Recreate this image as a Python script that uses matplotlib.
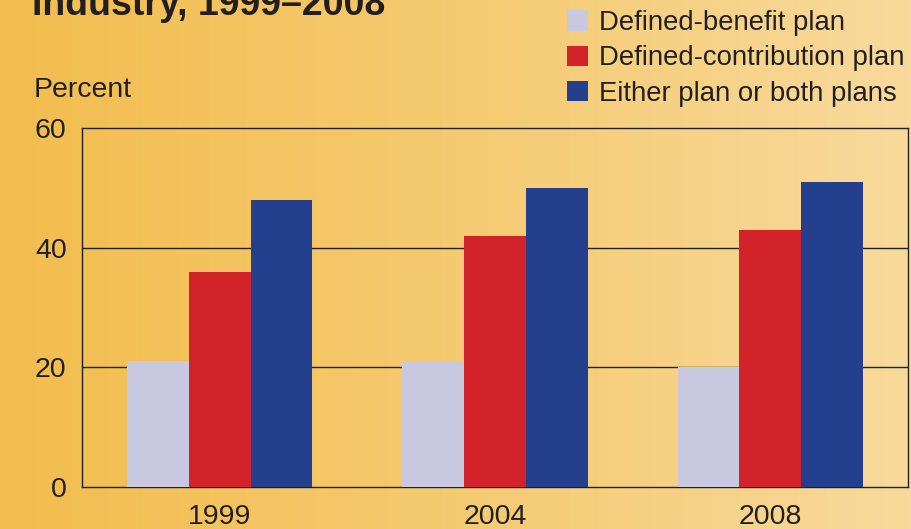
import numpy as np
import matplotlib.pyplot as plt
from matplotlib.colors import LinearSegmentedColormap

plt.rcParams['font.family'] = ['Liberation Sans', 'DejaVu Sans']

# data
years = ['1999', '2004', '2008']
series_names = ['Defined-benefit plan', 'Defined-contribution plan', 'Either plan or both plans']
defined_benefit = [21, 21, 20]
defined_contribution = [36, 42, 43]
either_plan = [48, 50, 51]
yticks = [0, 20, 40, 60]

colors = ['#C8C8E0', '#D2232A', '#243F8E']
text_color = '#231F20'

fig = plt.figure(figsize=(9.12, 5.29), dpi=100)

# background gradient over the whole figure
bg = fig.add_axes([0, 0, 1, 1], zorder=0)
cmap = LinearSegmentedColormap.from_list('bg', ['#F2BD4E', '#F5CA70', '#F8DA9C'])
bg.imshow(np.linspace(0, 1, 256).reshape(1, -1), aspect='auto', cmap=cmap,
          extent=[0, 1, 0, 1])
bg.axis('off')

ax = fig.add_axes([82 / 912, 1 - 487 / 529, 826 / 912, 359 / 529], zorder=1)
ax.patch.set_alpha(0)

x = np.arange(len(years))
w = 0.224
bars = []
for i, vals in enumerate([defined_benefit, defined_contribution, either_plan]):
    b = ax.bar(x + (i - 1) * w, vals, width=w, color=colors[i], zorder=3,
               label=series_names[i])
    bars.append(b)

ax.set_xlim(-0.5, 2.5)
ax.set_ylim(0, 60)
ax.set_yticks(yticks)
ax.set_xticks(x)
ax.set_xticklabels(years)
ax.tick_params(length=0, labelsize=20.5, colors=text_color)
ax.tick_params(axis='y', pad=11)
ax.tick_params(axis='x', pad=12)
for t in [20, 40]:
    ax.axhline(t, color='#231F20', lw=1.0, zorder=1)
for s in ax.spines.values():
    s.set_color('#231F20')
    s.set_linewidth(1.0)

# title is cut off at the top edge, as in the original
fig.text(32 / 912, 1 - 15 / 529, 'Industry, 1999\u20132008', fontsize=27,
         fontweight='bold', color=text_color, ha='left', va='baseline')
fig.text(34 / 912, 1 - 97 / 529, 'Percent', fontsize=20.5, color=text_color,
         ha='left', va='baseline')

fig.legend(handles=bars, loc='upper left', bbox_to_anchor=(567 / 912, 1 - 10 / 529),
           frameon=False, fontsize=19.8, handlelength=0.76, handleheight=0.76,
           handletextpad=0.42, labelspacing=0.34, borderpad=0, borderaxespad=0,
           labelcolor=text_color)

fig.savefig('out.png', dpi=100)
